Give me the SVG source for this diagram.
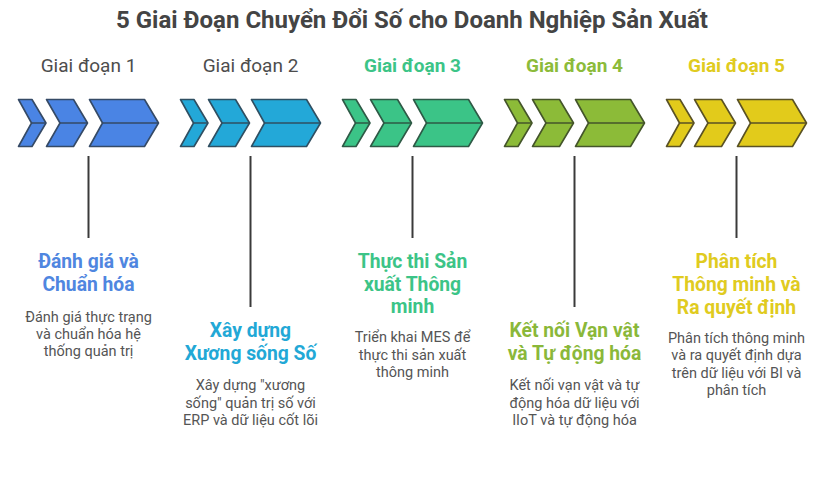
<svg xmlns="http://www.w3.org/2000/svg" width="840" height="480" viewBox="0 0 840 480">
<defs>
<style>
text{font-family:Roboto,"Liberation Sans",sans-serif;text-anchor:middle}
.title{font-size:24px;font-weight:700;fill:#444}
.stage{font-size:19px}
.plain{fill:#4d4d4d}
.bold{font-weight:700}
.head{font-size:19.3px;font-weight:700}
.desc{font-size:14.5px;fill:#555}
.ch{stroke-width:1.6;stroke-linejoin:round}
.mid{stroke-width:1.6}
.stem{stroke:#3a3a3a;stroke-width:2}
</style>
<g id="chev">
<polygon class="ch" points="0,99.5 13.5,99.5 27.5,123 13.5,146.5 0,146.5 13,123"/>
<polygon class="ch" points="28,99.5 55,99.5 69,123 55,146.5 28,146.5 41.5,123"/>
<polygon class="ch" points="71,99.5 126,99.5 140,123 126,146.5 71,146.5 84,123"/>
<path class="mid" d="M13,123H27.5M41.5,123H69M84,123H140"/>
</g>
</defs>
<rect width="840" height="480" fill="#fff"/>
<text class="title" x="412" y="28">5 Giai Đoạn Chuyển Đổi Số cho Doanh Nghiệp Sản Xuất</text>

<g id="connectors">
<line class="stem" x1="88.5" y1="156" x2="88.5" y2="238"/>
<line class="stem" x1="250.5" y1="156" x2="250.5" y2="307"/>
<line class="stem" x1="412.5" y1="156" x2="412.5" y2="238"/>
<line class="stem" x1="574.5" y1="156" x2="574.5" y2="307"/>
<line class="stem" x1="736.5" y1="156" x2="736.5" y2="238"/>
</g>

<g id="stage1">
<text class="stage plain" x="88.5" y="72">Giai đoạn 1</text>
<use href="#chev" transform="translate(18.5,0)" fill="#4a84e4" stroke="#354a66"/>
<text class="head" fill="#4f86e0" x="88.5" y="268"><tspan x="88.5">Đánh giá và</tspan><tspan x="88.5" dy="22.5">Chuẩn hóa</tspan></text>
<text class="desc" x="88.5" y="321.5"><tspan x="88.5">Đánh giá thực trạng</tspan><tspan x="88.5" dy="17">và chuẩn hóa hệ</tspan><tspan x="88.5" dy="17">thống quản trị</tspan></text>
</g>

<g id="stage2">
<text class="stage plain" x="250.5" y="72">Giai đoạn 2</text>
<use href="#chev" transform="translate(180.5,0)" fill="#23a8d8" stroke="#2f4f62"/>
<text class="head" fill="#22a8d6" x="250.5" y="337"><tspan x="250.5">Xây dựng</tspan><tspan x="250.5" dy="23">Xương sống Số</tspan></text>
<text class="desc" x="250.5" y="390"><tspan x="250.5">Xây dựng "xương</tspan><tspan x="250.5" dy="17.5">sống" quản trị số với</tspan><tspan x="250.5" dy="17.5">ERP và dữ liệu cốt lõi</tspan></text>
</g>

<g id="stage3">
<text class="stage bold" fill="#3cc487" x="412.5" y="72">Giai đoạn 3</text>
<use href="#chev" transform="translate(342.5,0)" fill="#3bc487" stroke="#2e5a46"/>
<text class="head" fill="#3cc487" x="412.5" y="268"><tspan x="412.5">Thực thi Sản</tspan><tspan x="412.5" dy="22.5">xuất Thông</tspan><tspan x="412.5" dy="22.5">minh</tspan></text>
<text class="desc" x="412.5" y="342"><tspan x="412.5">Triển khai MES để</tspan><tspan x="412.5" dy="17.5">thực thi sản xuất</tspan><tspan x="412.5" dy="17.5">thông minh</tspan></text>
</g>

<g id="stage4">
<text class="stage bold" fill="#8cbb3a" x="574.5" y="72">Giai đoạn 4</text>
<use href="#chev" transform="translate(504.5,0)" fill="#8cbb38" stroke="#44552a"/>
<text class="head" fill="#8ab83a" x="574.5" y="337"><tspan x="574.5">Kết nối Vạn vật</tspan><tspan x="574.5" dy="23">và Tự động hóa</tspan></text>
<text class="desc" x="574.5" y="390"><tspan x="574.5">Kết nối vạn vật và tự</tspan><tspan x="574.5" dy="17.5">động hóa dữ liệu với</tspan><tspan x="574.5" dy="17.5">IIoT và tự động hóa</tspan></text>
</g>

<g id="stage5">
<text class="stage bold" fill="#e0cb20" x="736.5" y="72">Giai đoạn 5</text>
<use href="#chev" transform="translate(666.5,0)" fill="#e2cb1b" stroke="#5a5224"/>
<text class="head" fill="#e0cb20" x="736.5" y="268"><tspan x="736.5">Phân tích</tspan><tspan x="736.5" dy="23">Thông minh và</tspan><tspan x="736.5" dy="23">Ra quyết định</tspan></text>
<text class="desc" x="736.5" y="343"><tspan x="736.5">Phân tích thông minh</tspan><tspan x="736.5" dy="17.3">và ra quyết định dựa</tspan><tspan x="736.5" dy="17.3">trên dữ liệu với BI và</tspan><tspan x="736.5" dy="17.3">phân tích</tspan></text>
</g>
</svg>
